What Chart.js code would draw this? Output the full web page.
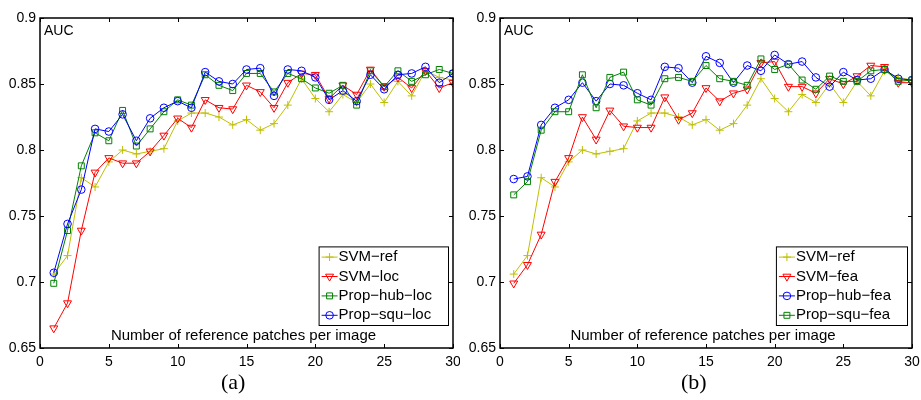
<!DOCTYPE html>
<html>
<head>
<meta charset="utf-8">
<script src="https://cdn.jsdelivr.net/npm/chart.js@4/dist/chart.umd.min.js"></script>
<style>
  body { margin: 0; background: #fff; }
  #wrap { position: relative; width: 921px; height: 400px; }
  canvas { position: absolute; top: 0; }
  #chart-a { left: 0; }
  #chart-b { left: 460px; }
  .caption {
    position: absolute;
    top: 369px;
    font-family: "Liberation Serif", "DejaVu Serif", serif;
    font-size: 22px;
    color: #000;
  }
</style>
</head>
<body>
<div id="wrap">
  <canvas id="chart-a" width="460" height="400"></canvas>
  <canvas id="chart-b" width="461" height="400"></canvas>
  <div class="caption" style="left:221px">(a)</div>
  <div class="caption" style="left:681px">(b)</div>
</div>
<script>
const patches = [1, 2, 3, 4, 5, 6, 7, 8, 9, 10, 11, 12, 13, 14, 15,
  16, 17, 18, 19, 20, 21, 22, 23, 24, 25, 26, 27, 28, 29, 30];

const xTicks = [0, 5, 10, 15, 20, 25, 30];
const yTicks = [0.65, 0.7, 0.75, 0.8, 0.85, 0.9];

// shared baseline, same curve in both panels
const svmRef = [0.706, 0.72, 0.779, 0.772, 0.791, 0.800, 0.797, 0.799, 0.801, 0.822,
  0.828, 0.828, 0.825, 0.819, 0.823, 0.815, 0.820, 0.834, 0.854, 0.839,
  0.829, 0.842, 0.836, 0.850, 0.836, 0.852, 0.841, 0.860, 0.855, 0.853];

// panel (a)
const svmLoc = [0.665, 0.684, 0.739, 0.783, 0.794, 0.790, 0.790, 0.799, 0.811, 0.824,
  0.817, 0.838, 0.832, 0.831, 0.849, 0.844, 0.832, 0.851, 0.858, 0.857,
  0.839, 0.849, 0.842, 0.861, 0.848, 0.855, 0.847, 0.860, 0.847, 0.851];
const propHubLoc = [0.699, 0.739, 0.788, 0.813, 0.807, 0.830, 0.803, 0.816, 0.829, 0.838,
  0.834, 0.857, 0.849, 0.845, 0.858, 0.858, 0.844, 0.858, 0.854, 0.847,
  0.843, 0.849, 0.834, 0.860, 0.848, 0.860, 0.852, 0.857, 0.861, 0.858];
const propSquLoc = [0.707, 0.744, 0.770, 0.816, 0.814, 0.827, 0.807, 0.824, 0.832, 0.837,
  0.832, 0.859, 0.852, 0.850, 0.861, 0.862, 0.841, 0.861, 0.860, 0.855,
  0.838, 0.845, 0.837, 0.857, 0.846, 0.857, 0.858, 0.863, 0.851, 0.858];

// panel (b)
const svmFea = [0.699, 0.713, 0.736, 0.776, 0.794, 0.825, 0.808, 0.830, 0.818, 0.817,
  0.817, 0.840, 0.823, 0.828, 0.847, 0.837, 0.843, 0.846, 0.866, 0.867,
  0.848, 0.848, 0.843, 0.854, 0.850, 0.856, 0.864, 0.863, 0.851, 0.851];
const propHubFea = [0.778, 0.780, 0.819, 0.832, 0.838, 0.851, 0.837, 0.850, 0.849, 0.843,
  0.838, 0.863, 0.862, 0.851, 0.871, 0.866, 0.851, 0.864, 0.860, 0.872,
  0.865, 0.867, 0.855, 0.848, 0.859, 0.853, 0.854, 0.861, 0.854, 0.853];
const propSquFea = [0.766, 0.776, 0.815, 0.829, 0.829, 0.857, 0.832, 0.855, 0.859, 0.838,
  0.834, 0.854, 0.855, 0.852, 0.864, 0.854, 0.852, 0.849, 0.869, 0.861,
  0.865, 0.853, 0.846, 0.856, 0.852, 0.852, 0.860, 0.861, 0.852, 0.853];

const FONT = "'Liberation Sans', Arial, Helvetica, sans-serif";

const STYLES = {
  ref: { color: "#bfbf00", pointStyle: "cross", radius: 4, rotation: 0 },
  svm: { color: "#ff0000", pointStyle: "triangle", radius: 4.6, rotation: 180 },
  circle: { color: "#0000ff", pointStyle: "circle", radius: 3.8, rotation: 0 },
  square: { color: "#008000", pointStyle: "rect", radius: 4.2, rotation: 0 },
};

function makeDataset(label, values, style, order) {
  return {
    label,
    data: patches.map((x, i) => ({ x, y: values[i] })),
    borderColor: style.color,
    backgroundColor: "rgba(0,0,0,0)",
    borderWidth: 1,
    pointStyle: style.pointStyle,
    pointRadius: style.radius,
    pointRotation: style.rotation,
    pointBorderColor: style.color,
    pointBackgroundColor: "rgba(0,0,0,0)",
    pointBorderWidth: 1,
    tension: 0,
    order,
  };
}

// box, inward tick marks on all four sides, and the texts drawn inside the axes
const framePlugin = {
  id: "frame",
  afterDraw(chart) {
    const { ctx, chartArea: a, scales } = chart;
    const tick = 4;
    ctx.save();
    ctx.strokeStyle = "#000";
    ctx.lineWidth = 1;
    ctx.beginPath();
    xTicks.forEach((v) => {
      const px = Math.round(scales.x.getPixelForValue(v)) + 0.5;
      ctx.moveTo(px, a.bottom);
      ctx.lineTo(px, a.bottom - tick);
      ctx.moveTo(px, a.top);
      ctx.lineTo(px, a.top + tick);
    });
    yTicks.forEach((v) => {
      const py = Math.round(scales.y.getPixelForValue(v)) + 0.5;
      ctx.moveTo(a.left, py);
      ctx.lineTo(a.left + tick, py);
      ctx.moveTo(a.right, py);
      ctx.lineTo(a.right - tick, py);
    });
    ctx.stroke();
    ctx.lineWidth = 1.5;
    ctx.strokeRect(a.left, a.top, a.right - a.left, a.bottom - a.top);

    ctx.fillStyle = "#000";
    ctx.font = "14px " + FONT;
    ctx.textBaseline = "middle";
    ctx.textAlign = "left";
    ctx.fillText("AUC", a.left + 4, a.top + 13);
    ctx.font = "15px " + FONT;
    ctx.textAlign = "center";
    ctx.fillText("Number of reference patches per image", (a.left + a.right) / 2 - 3, a.bottom - 12);
    ctx.restore();
  },
};

// legend box inside the lower right corner, line sample with marker
const insideLegendPlugin = {
  id: "insideLegend",
  afterDraw(chart) {
    const { ctx, chartArea: a } = chart;
    const sets = chart.data.datasets;
    const rowH = 19.4;
    ctx.save();
    ctx.font = "15px " + FONT;
    const textW = Math.max(...sets.map((d) => ctx.measureText(d.label).width));
    const w = textW + 36;
    const h = rowH * sets.length + 1;
    const right = a.right - 5;
    const bottom = a.bottom - 23;
    const left = right - w;
    const top = bottom - h;
    ctx.fillStyle = "#fff";
    ctx.fillRect(left, top, w, h);
    ctx.strokeStyle = "#000";
    ctx.lineWidth = 1;
    ctx.strokeRect(left + 0.5, top + 0.5, w, h);

    sets.forEach((d, i) => {
      const y = top + rowH * (i + 0.5) + 1;
      ctx.strokeStyle = d.borderColor;
      ctx.lineWidth = 1;
      ctx.beginPath();
      ctx.moveTo(left + 3, y);
      ctx.lineTo(left + 19, y);
      ctx.stroke();
      ctx.fillStyle = "rgba(0,0,0,0)";
      Chart.helpers.drawPoint(ctx, {
        pointStyle: d.pointStyle,
        radius: d.pointRadius,
        rotation: d.pointRotation,
        borderWidth: 1,
      }, left + 11, y);
      ctx.fillStyle = "#000";
      ctx.textAlign = "left";
      ctx.textBaseline = "middle";
      ctx.fillText(d.label, left + 20, y);
    });
    ctx.restore();
  },
};

function buildChart(canvas, datasets, rightPad) {
  return new Chart(canvas.getContext("2d"), {
    type: "line",
    data: { datasets },
    options: {
      responsive: false,
      animation: false,
      layout: { padding: { left: 0, top: 18, right: rightPad, bottom: 22 } },
      plugins: {
        legend: { display: false },
        tooltip: { enabled: false },
      },
      scales: {
        x: {
          type: "linear",
          min: 0,
          max: 30,
          afterBuildTicks: (axis) => {
            axis.ticks = xTicks.map((value) => ({ value }));
          },
          afterFit: (axis) => {
            axis.height = 30;
            axis.paddingLeft = 0;
            axis.paddingRight = 0;
          },
          grid: { display: false, drawTicks: false },
          border: { display: false },
          ticks: {
            padding: 6,
            color: "#000",
            maxRotation: 0,
            font: { family: FONT, size: 14 },
            callback: (value) => String(value),
          },
        },
        y: {
          type: "linear",
          min: 0.65,
          max: 0.9,
          afterBuildTicks: (axis) => {
            axis.ticks = yTicks.map((value) => ({ value }));
          },
          afterFit: (axis) => {
            axis.width = 40;
            axis.paddingTop = 0;
            axis.paddingBottom = 0;
          },
          grid: { display: false, drawTicks: false },
          border: { display: false },
          ticks: {
            padding: 4,
            color: "#000",
            font: { family: FONT, size: 14 },
            callback: (value) => String(Number(value.toFixed(2))),
          },
        },
      },
    },
    plugins: [framePlugin, insideLegendPlugin],
  });
}

document.addEventListener("DOMContentLoaded", () => {
  buildChart(document.getElementById("chart-a"), [
    makeDataset("SVM\u2212ref", svmRef, STYLES.ref, 4),
    makeDataset("SVM\u2212loc", svmLoc, STYLES.svm, 3),
    makeDataset("Prop\u2212hub\u2212loc", propHubLoc, STYLES.square, 2),
    makeDataset("Prop\u2212squ\u2212loc", propSquLoc, STYLES.circle, 1),
  ], 7);

  buildChart(document.getElementById("chart-b"), [
    makeDataset("SVM\u2212ref", svmRef, STYLES.ref, 4),
    makeDataset("SVM\u2212fea", svmFea, STYLES.svm, 3),
    makeDataset("Prop\u2212hub\u2212fea", propHubFea, STYLES.circle, 2),
    makeDataset("Prop\u2212squ\u2212fea", propSquFea, STYLES.square, 1),
  ], 9);
});
</script>
</body>
</html>
